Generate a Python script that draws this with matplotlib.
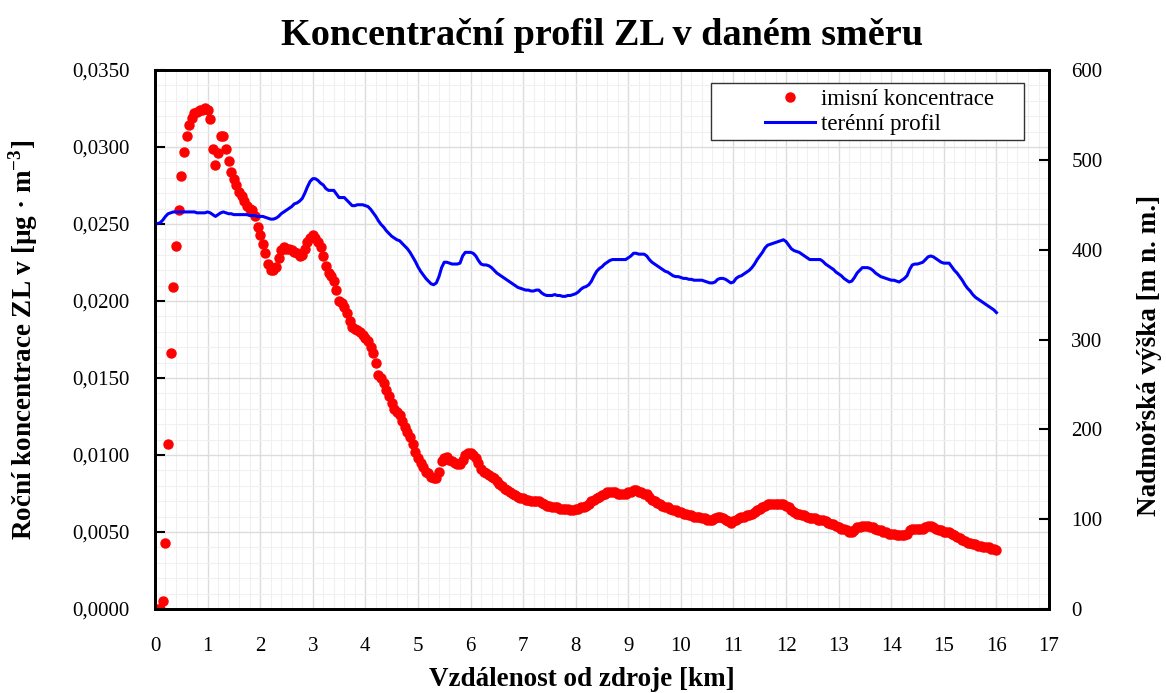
import numpy as np
import matplotlib
matplotlib.use('Agg')
import matplotlib.pyplot as plt
from matplotlib.ticker import MultipleLocator, FuncFormatter
from matplotlib.patches import Rectangle

plt.rcParams['font.family'] = ['Liberation Serif', 'DejaVu Serif']
plt.rcParams['mathtext.fontset'] = 'custom'
plt.rcParams['mathtext.rm'] = 'Liberation Serif'
plt.rcParams['mathtext.bf'] = 'Liberation Serif:bold'
plt.rcParams['axes.unicode_minus'] = False

# vzdalenost [km], krok 0.05 km
km = np.round(np.arange(0, 16.001, 0.05), 2)

# rocni koncentrace [1e-4 ug/m3]
conc_e4 = [
    0, 0, 0, 5, 43, 107, 166, 209, 236, 259, 281, 297, 307, 314, 319, 322, 323, 324, 324, 325,
    324, 318, 299, 288, 296, 307, 307, 299, 291, 284, 279, 275, 271, 268, 265, 262, 260, 259, 255, 248,
    243, 237, 231, 224, 220, 220, 222, 228, 233, 235, 234, 234, 233, 232, 231, 229, 230, 234, 238, 241,
    243, 241, 238, 235, 229, 223, 218, 216, 213, 207, 200, 199, 196, 192, 187, 183, 182, 181, 180, 178,
    176, 174, 170, 166, 160, 152, 150, 147, 142, 138, 134, 130, 128, 126, 122, 118, 115, 112, 107, 102,
    98, 95, 92, 89, 88, 86, 85, 85, 89, 96, 98, 99, 97, 96, 95, 94, 94, 97, 100, 101,
    101, 100, 98, 95, 91, 89, 88, 87, 86, 85, 83, 81, 80, 78, 77, 76, 75, 74, 73, 72,
    72, 71, 71, 70, 70, 70, 70, 69, 68, 67, 67, 66, 66, 66, 65, 65, 65, 65, 64, 64,
    65, 65, 66, 66, 67, 68, 70, 71, 72, 73, 74, 75, 76, 76, 76, 76, 75, 75, 75, 75,
    76, 76, 77, 77, 76, 76, 75, 75, 73, 71, 70, 69, 68, 67, 66, 66, 65, 64, 64, 63,
    63, 62, 62, 61, 61, 60, 60, 60, 59, 59, 58, 58, 58, 59, 60, 60, 59, 58, 57, 56,
    57, 58, 59, 60, 60, 61, 61, 62, 63, 64, 65, 66, 67, 68, 68, 68, 68, 68, 68, 68,
    67, 66, 64, 63, 62, 62, 61, 61, 60, 59, 59, 59, 58, 58, 58, 57, 56, 55, 55, 54,
    53, 52, 52, 51, 50, 50, 51, 53, 53, 54, 54, 54, 53, 53, 52, 51, 51, 50, 50, 49,
    49, 49, 48, 48, 48, 48, 49, 51, 52, 52, 52, 52, 52, 53, 54, 54, 53, 52, 51, 51,
    50, 50, 50, 49, 48, 47, 46, 45, 44, 43, 43, 42, 42, 41, 41, 40, 40, 40, 39, 39,
    38,
]
conc = np.array(conc_e4) * 1e-4

# teren [m n. m.]
elev = [
    429, 429, 430, 433, 437, 440, 441, 442, 442, 442, 442, 442, 442, 442, 442, 442, 441, 441, 441, 441,
    442, 441, 439, 437, 439, 441, 442, 441, 440, 440, 439, 439, 439, 439, 439, 439, 438, 438, 438, 437,
    437, 437, 436, 435, 434, 434, 435, 437, 440, 442, 444, 446, 448, 451, 452, 454, 457, 463, 470, 476,
    479, 479, 477, 474, 472, 468, 466, 466, 466, 462, 458, 458, 458, 455, 452, 449, 449, 450, 450, 450,
    449, 448, 445, 441, 437, 432, 428, 425, 421, 418, 415, 413, 411, 410, 407, 404, 401, 397, 392, 387,
    381, 376, 372, 368, 365, 362, 361, 363, 370, 380, 386, 386, 385, 384, 384, 384, 385, 393, 397, 397,
    397, 396, 393, 388, 384, 383, 383, 382, 380, 377, 374, 372, 370, 368, 366, 364, 362, 360, 358, 357,
    356, 355, 355, 354, 354, 355, 355, 352, 350, 349, 349, 349, 350, 349, 349, 348, 348, 349, 349, 350,
    351, 353, 356, 358, 359, 361, 365, 371, 376, 379, 381, 384, 386, 388, 389, 389, 389, 389, 389, 389,
    391, 393, 396, 396, 395, 395, 395, 393, 389, 386, 384, 382, 380, 378, 376, 375, 373, 371, 370, 370,
    369, 368, 368, 367, 367, 366, 366, 366, 366, 365, 364, 363, 363, 364, 367, 368, 368, 367, 365, 363,
    364, 368, 370, 371, 373, 375, 377, 380, 384, 389, 393, 397, 402, 405, 406, 407, 408, 409, 410, 411,
    409, 405, 401, 399, 398, 397, 395, 393, 391, 389, 389, 389, 389, 389, 387, 384, 382, 380, 378, 375,
    373, 371, 368, 366, 364, 365, 369, 374, 377, 380, 380, 380, 379, 377, 374, 372, 370, 369, 368, 367,
    366, 366, 365, 364, 366, 368, 371, 378, 383, 384, 384, 385, 386, 389, 392, 393, 392, 390, 388, 386,
    385, 385, 385, 381, 377, 374, 370, 366, 361, 357, 354, 350, 347, 345, 343, 341, 339, 337, 335, 333,
    330,
]

fig = plt.figure(figsize=(11.66, 6.93), dpi=100)
ax = fig.add_axes([0.1329, 0.1212, 0.7668, 0.7778])
ax2 = ax.twinx()

pts, = ax.plot(km, conc, 'o', ms=6.5, color='red', mec='red', label='imisní koncentrace')
lin, = ax2.plot(km, elev, '-', lw=2.2, color='blue', label='terénní profil')

ax.set_xlim(0, 17)
ax.set_ylim(0, 0.035)
ax2.set_ylim(0, 600)

ax.xaxis.set_major_locator(MultipleLocator(1))
ax.xaxis.set_minor_locator(MultipleLocator(0.2))
ax.yaxis.set_major_locator(MultipleLocator(0.005))
ax.yaxis.set_minor_locator(MultipleLocator(0.001))
ax.yaxis.set_major_formatter(FuncFormatter(lambda v, p: f'{v:.4f}'.replace('.', ',')))
ax2.yaxis.set_major_locator(MultipleLocator(100))

ax.grid(which='major', color='#dcdcdc', lw=1.0)
ax.grid(which='minor', color='#f0f0f0', lw=0.8)
ax.set_axisbelow(True)

ax.tick_params(axis='x', which='both', length=0, pad=20, labelsize=15)
ax.tick_params(axis='y', which='major', direction='in', length=7, width=1.5, pad=18, labelsize=15)
ax.tick_params(axis='y', which='minor', length=0)
ax2.tick_params(axis='y', which='major', direction='in', length=7, width=1.5, pad=16, labelsize=15)

for a in (ax, ax2):
    for s in a.spines.values():
        s.set_linewidth(2.0)
        s.set_color('black')

bold = dict(fontsize=19.5, fontweight='bold')
ax.set_xlabel('Vzdálenost od zdroje [km]', **bold)
ax.set_ylabel('Roční koncentrace ZL v [µg · m$^{\\mathbf{-3}}$]', **bold)
ax2.set_ylabel('Nadmořská výška [m n. m.]', **bold)
ax.xaxis.set_label_coords(0.478, -0.107)
ax.yaxis.set_label_coords(-0.129, 0.5)
ax2.yaxis.set_label_coords(1.098, 0.471)

ax.set_title('Koncentrační profil ZL v daném směru', fontsize=27.5, fontweight='bold', pad=18)

# ramecek legendy
ax2.add_patch(Rectangle((0.622, 0.870), 0.350, 0.106, transform=ax2.transAxes,
                        facecolor='white', edgecolor='#333333', lw=1.0, zorder=4))
leg = ax2.legend(handles=[pts, lin], loc='center left', bbox_to_anchor=(0.669, 0.922),
                 fontsize=16.5, frameon=False, handlelength=2.2, handletextpad=0.25,
                 borderpad=0, labelspacing=0.2)
leg.set_zorder(5)

fig.savefig('out.png', dpi=100)
